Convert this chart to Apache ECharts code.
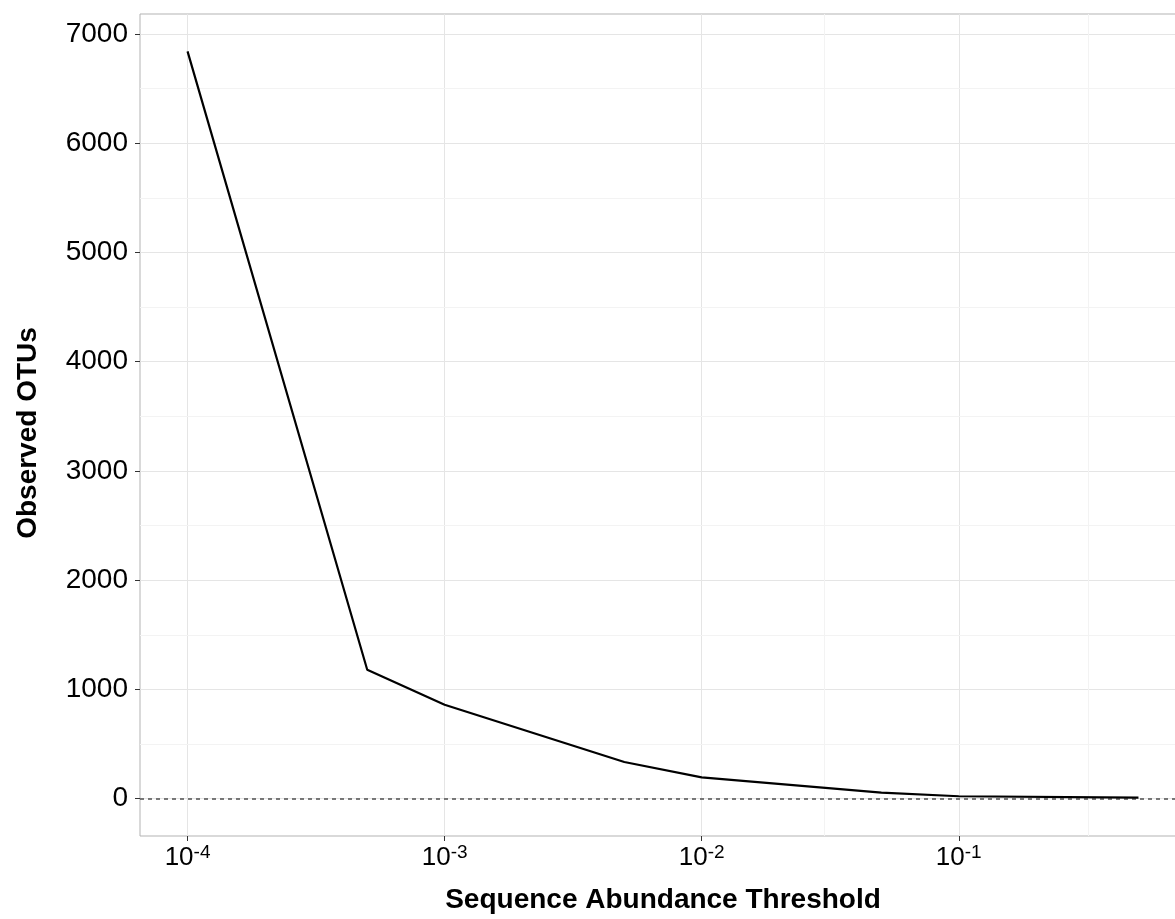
<!DOCTYPE html>
<html>
<head>
<meta charset="utf-8">
<title>Observed OTUs vs sequence abundance threshold</title>
<script src="https://cdn.jsdelivr.net/npm/echarts@6/dist/echarts.min.js"></script>
<style>
  html, body { margin: 0; padding: 0; background: #ffffff; }
  #chart { width: 1175px; height: 919px; }
</style>
</head>
<body>
<div id="chart"></div>
<script>
// Relative sequence abundance thresholds and the OTUs left at each one
const thresholds = [1e-4, 5e-4, 1e-3, 5e-3, 1e-2, 5e-2, 1e-1, 5e-1];
const observedOtus = [6840, 1180, 860, 335, 195, 55, 22, 10];

// Axis breaks: labelled decades, plus half-decade minor grid lines
const xMajorTicks = [1e-4, 1e-3, 1e-2, 1e-1];
const xMinorTicks = [3.1623e-4, 3.1623e-3, 3.1623e-2, 3.1623e-1];
const yMajorTicks = [0, 1000, 2000, 3000, 4000, 5000, 6000, 7000];
const yMinorTicks = [500, 1500, 2500, 3500, 4500, 5500, 6500];

const FONT = '"Liberation Sans", Arial, sans-serif';

// 5% padding on each side of the data range (log space for x)
const logLo = Math.log10(thresholds[0]);
const logHi = Math.log10(thresholds[thresholds.length - 1]);
const xPad = 0.05 * (logHi - logLo);
const xMin = Math.pow(10, logLo - xPad);
const xMax = Math.pow(10, logHi + xPad);
const yTop = Math.max(...observedOtus);
const yPad = 0.05 * (yTop - 0);
const yMin = 0 - yPad;
const yMax = yTop + yPad;

const lineData = thresholds.map((t, i) => [t, observedOtus[i]]);

const minorStyle = { color: '#f3f3f3', width: 1, type: 'solid' };
const guideLines = [
  ...xMinorTicks.map(v => ({ xAxis: v, lineStyle: minorStyle })),
  ...yMinorTicks.map(v => ({ yAxis: v, lineStyle: minorStyle })),
  { yAxis: 0, lineStyle: { color: '#5a5a5a', width: 1.6, type: [4, 4] } }
];

const chart = echarts.init(document.getElementById('chart'), null, { renderer: 'canvas' });

chart.setOption({
  animation: false,
  backgroundColor: '#ffffff',
  grid: {
    left: 140,
    top: 14,
    width: 1046,
    height: 822,
    show: true,
    borderColor: '#b3b3b3',
    borderWidth: 1,
    backgroundColor: 'transparent',
    containLabel: false,
    outerBoundsMode: 'none'
  },
  xAxis: {
    type: 'log',
    logBase: 10,
    min: xMin,
    max: xMax,
    name: 'Sequence Abundance Threshold',
    nameLocation: 'middle',
    nameGap: 50,
    nameTextStyle: { fontFamily: FONT, fontSize: 28, fontWeight: 'bold', color: '#000000' },
    axisLine: { show: false, onZero: false },
    axisTick: {
      show: true,
      length: 5,
      customValues: xMajorTicks,
      lineStyle: { color: '#333333', width: 1 }
    },
    axisLabel: {
      customValues: xMajorTicks,
      margin: 7,
      formatter: function (v) {
        const e = Math.round(Math.log10(v));
        return '{b|10}{s|' + e + '}';
      },
      rich: {
        b: { fontFamily: FONT, fontSize: 26, lineHeight: 30, color: '#000000' },
        s: { fontFamily: FONT, fontSize: 19, lineHeight: 19, verticalAlign: 'top', color: '#000000' }
      }
    },
    splitLine: { show: true, lineStyle: { color: '#e5e5e5', width: 1 } },
    minorSplitLine: { show: false }
  },
  yAxis: {
    type: 'value',
    min: yMin,
    max: yMax,
    name: 'Observed OTUs',
    nameLocation: 'middle',
    nameGap: 98,
    nameRotate: 90,
    nameTextStyle: {
      fontFamily: FONT, fontSize: 28, fontWeight: 'bold', color: '#000000',
      padding: [0, 16, 0, 0]
    },
    axisLine: { show: false, onZero: false },
    axisTick: {
      show: true,
      length: 5,
      customValues: yMajorTicks,
      lineStyle: { color: '#333333', width: 1 }
    },
    axisLabel: {
      customValues: yMajorTicks,
      margin: 12,
      fontFamily: FONT,
      fontSize: 28,
      color: '#000000',
      formatter: function (v) { return String(Math.round(v)); }
    },
    splitLine: { show: true, lineStyle: { color: '#e5e5e5', width: 1 } }
  },
  series: [
    {
      // minor grid and the dashed zero reference, kept beneath the curve
      type: 'line',
      data: [],
      z: 1,
      silent: true,
      markLine: {
        z: 1,
        silent: true,
        animation: false,
        symbol: ['none', 'none'],
        label: { show: false },
        emphasis: { disabled: true },
        data: guideLines
      }
    },
    {
      type: 'line',
      data: lineData,
      z: 3,
      showSymbol: false,
      symbol: 'none',
      lineStyle: { color: '#000000', width: 2.2 },
      silent: true
    }
  ]
});
</script>
</body>
</html>
